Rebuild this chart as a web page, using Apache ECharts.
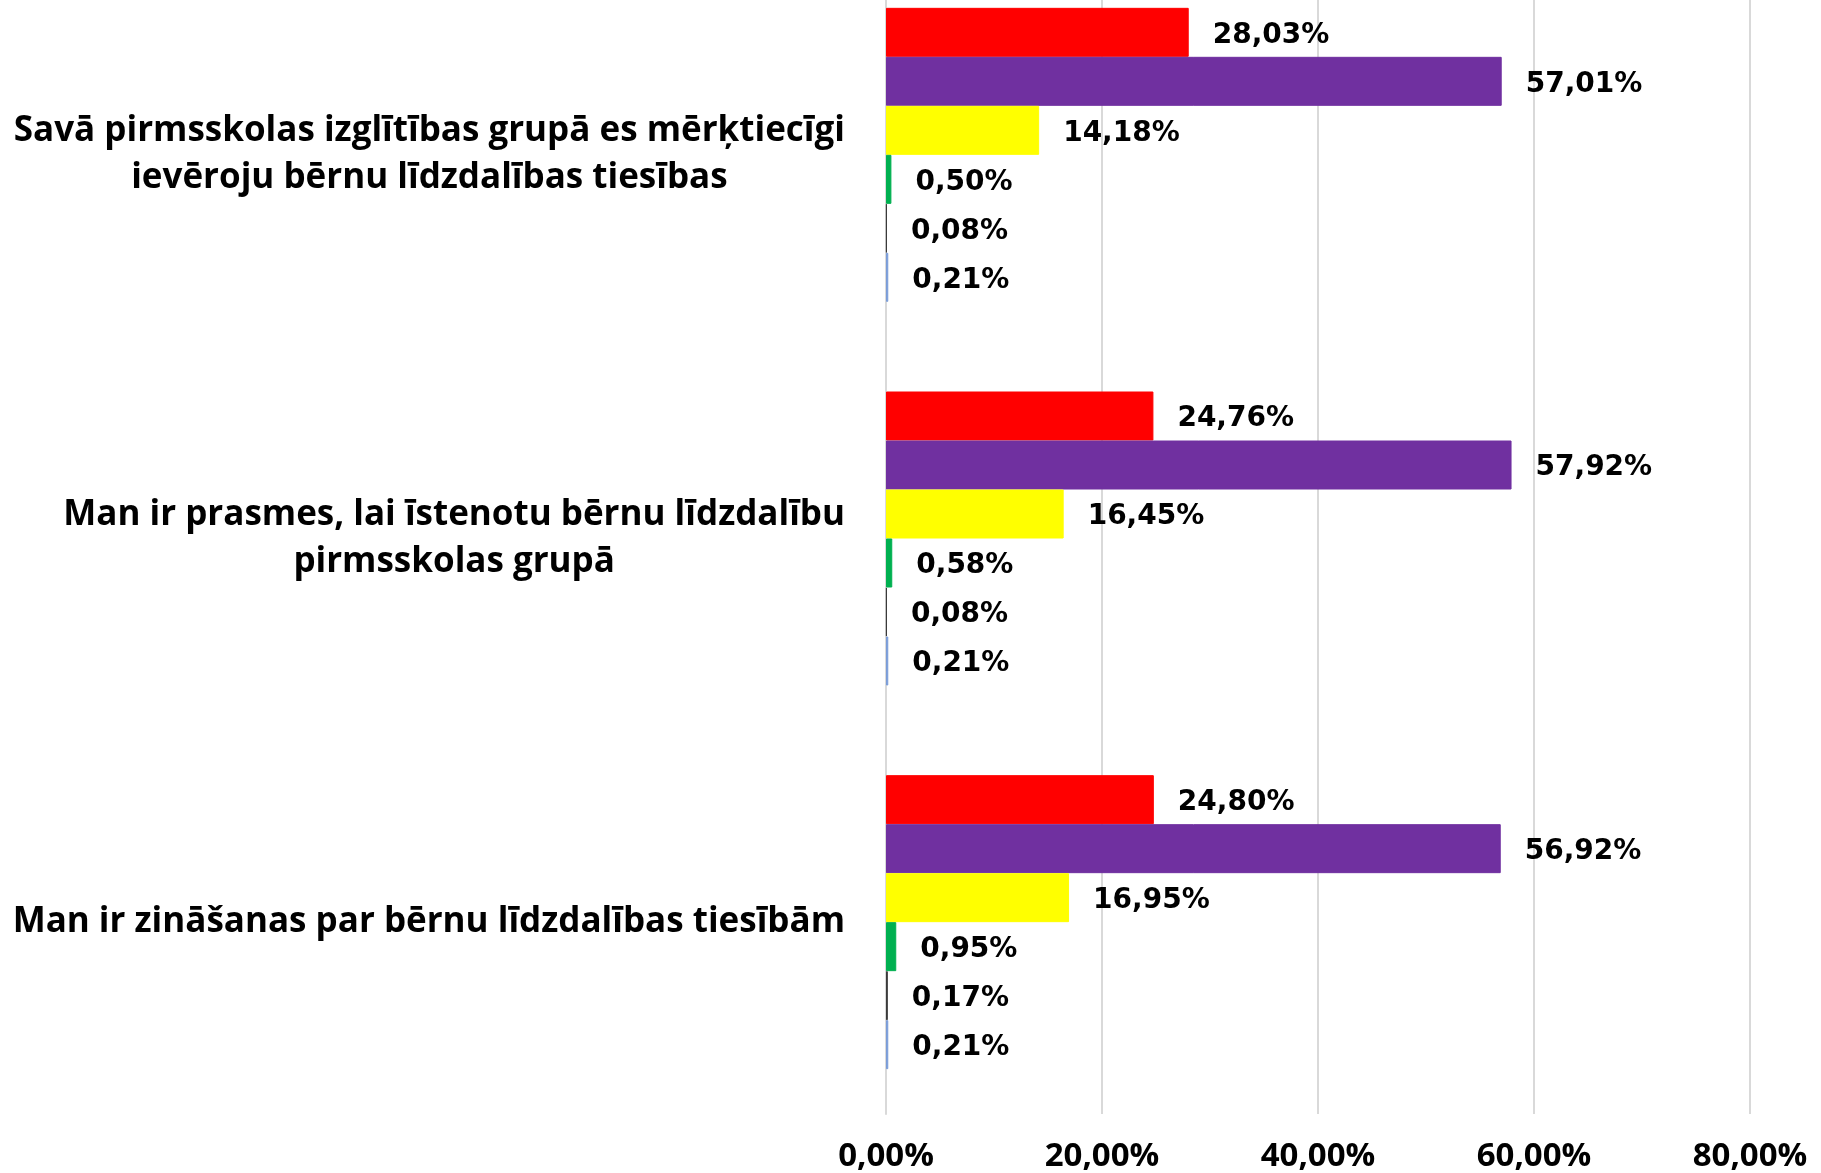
<!DOCTYPE html>
<html>
<head>
<meta charset="utf-8">
<script src="https://cdn.jsdelivr.net/npm/echarts@6/dist/echarts.min.js"></script>
<style>
  html, body { margin: 0; padding: 0; background: #fff; overflow: hidden; }
  /* the original picture is cropped at the top, so the chart starts above the page */
  #chart { position: absolute; left: 0; top: -37px; width: 1821px; height: 1210px; }
</style>
</head>
<body>
<div id="chart"></div>
<script>
// categories from top to bottom
const categories = [
  'Savā pirmsskolas izglītības grupā es mērķtiecīgi\nievēroju bērnu līdzdalības tiesības',
  'Man ir prasmes, lai īstenotu bērnu līdzdalību\npirmsskolas grupā',
  'Man ir zināšanas par bērnu līdzdalības tiesībām'
];
const xTicks = [0, 20, 40, 60, 80];

// one array per answer (percent), same order as categories
const redVals = [28.03, 24.76, 24.80];
const purpleVals = [57.01, 57.92, 56.92];
const yellowVals = [14.18, 16.45, 16.95];
const greenVals = [0.50, 0.58, 0.95];
const blackVals = [0.08, 0.08, 0.17];
const blueVals = [0.21, 0.21, 0.21];

const seriesDefs = [
  { name: 'A', data: redVals, color: '#FF0000' },
  { name: 'B', data: purpleVals, color: '#7030A0' },
  { name: 'C', data: yellowVals, color: '#FFFF00' },
  { name: 'D', data: greenVals, color: '#00B050' },
  { name: 'E', data: blackVals, color: '#3A3A3A' },
  { name: 'F', data: blueVals, color: '#7A9CD8' }
];

const fmtPct = function(v) {
  return v.toFixed(2).replace('.', ',') + '%';
};

const chart = echarts.init(document.getElementById('chart'));
chart.setOption({
  animation: false,
  backgroundColor: '#fff',
  grid: {
    left: 886,
    right: 71,
    top: 0,
    bottom: 59
  },
  xAxis: {
    type: 'value',
    min: xTicks[0],
    max: xTicks[xTicks.length - 1],
    interval: 20,
    axisLine: { show: false },
    axisTick: { show: false },
    splitLine: { lineStyle: { color: '#D9D9D9', width: 2 } },
    axisLabel: {
      margin: 26,
      fontSize: 33,
      fontWeight: 'bold',
      fontFamily: 'Open Sans',
      color: '#000',
      formatter: function(v) { return fmtPct(v); }
    }
  },
  yAxis: {
    type: 'category',
    inverse: true,
    data: categories,
    axisLine: { show: true, lineStyle: { color: '#D9D9D9', width: 2 } },
    axisTick: { show: false },
    axisLabel: {
      align: 'right',
      margin: 41,
      formatter: function(v) {
        return v.split('\n').map(function(l) { return '{c|' + l + '}'; }).join('\n');
      },
      rich: {
        c: {
          align: 'center',
          fontSize: 35,
          fontWeight: 'bold',
          fontFamily: 'Open Sans',
          color: '#000',
          lineHeight: 47
        }
      }
    }
  },
  series: seriesDefs.map(function(s) {
    return {
      name: s.name,
      type: 'bar',
      data: s.data,
      barWidth: 49,
      barGap: '0%',
      // thin outline so the tiny values stay visible, like in the original
      itemStyle: { color: s.color, borderColor: s.color, borderWidth: 1 },
      label: {
        show: true,
        position: 'right',
        distance: 24,
        offset: [0, 3],
        fontSize: 28,
        fontWeight: 'bold',
        fontFamily: 'DejaVu Sans',
        color: '#000',
        formatter: function(p) { return fmtPct(p.value); }
      }
    };
  })
});
</script>
</body>
</html>
